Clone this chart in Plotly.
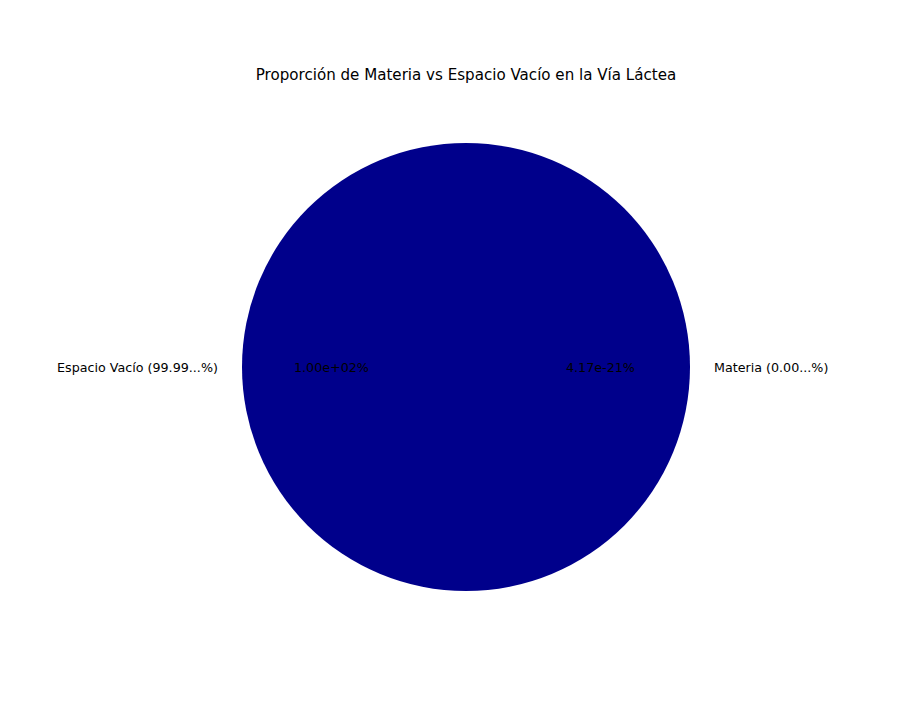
import plotly.graph_objects as go

# Data
labels = ['Materia', 'Espacio Vacío']
values = [4.17e-23, 1.0]
label_texts = ['Materia (0.00...%)', 'Espacio Vacío (99.99...%)']
colors = ['darkblue', 'darkblue']

W, H = 910, 728
# pie geometry in pixels (page body adds an 8px offset)
cx, cy, r = 458, 359, 224
title_y = 67

total = sum(values)
pcts = [100 * v / total for v in values]

fig = go.Figure()
fig.add_trace(go.Pie(
    labels=labels,
    values=values,
    marker=dict(colors=colors, line=dict(width=0)),
    textinfo='none',
    hoverinfo='label+percent',
    sort=False,
    direction='counterclockwise',
    rotation=90,
    showlegend=False,
    domain=dict(x=[(cx - r) / W, (cx + r) / W],
                y=[1 - (cy + r) / H, 1 - (cy - r) / H]),
))

font = dict(family='DejaVu Sans', size=12.7, color='black')
ymid = 1 - cy / H
annotations = [
    # outer labels (right side: Materia, left side: Espacio Vacío)
    dict(x=(cx + 1.1 * r) / W, y=ymid, text=label_texts[0], xanchor='left'),
    dict(x=(cx - 1.1 * r) / W, y=ymid, text=label_texts[1], xanchor='right'),
    # autopct labels
    dict(x=(cx + 0.6 * r) / W, y=ymid, text='{:.2e}%'.format(pcts[0]), xanchor='center'),
    dict(x=(cx - 0.6 * r) / W, y=ymid, text='{:.2e}%'.format(pcts[1]), xanchor='center'),
]
for a in annotations:
    a.update(xref='paper', yref='paper', yanchor='middle', showarrow=False, font=font)

fig.update_layout(
    width=W, height=H,
    margin=dict(t=0, b=0, l=0, r=0),
    paper_bgcolor='white',
    plot_bgcolor='white',
    title=dict(text='Proporción de Materia vs Espacio Vacío en la Vía Láctea',
               x=cx / W, xanchor='center', y=1 - title_y / H, yanchor='middle',
               font=dict(family='DejaVu Sans', size=15.1, color='black')),
    annotations=annotations,
)

fig.write_html('out.html')
